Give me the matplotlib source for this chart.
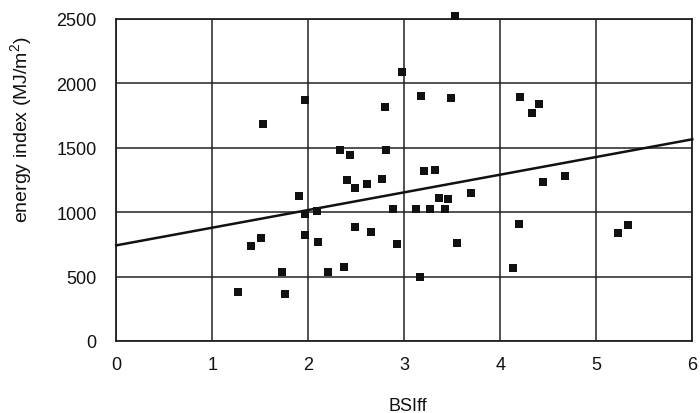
import numpy as np
import matplotlib
matplotlib.use("Agg")
import matplotlib.pyplot as plt

# BSIff vs energy index
bsiff = [1.27, 1.40, 1.51, 1.53, 1.73, 1.76, 1.90, 1.97, 1.97, 1.97,
         2.09, 2.10, 2.21, 2.37, 2.33, 2.44, 2.40, 2.49, 2.61, 2.77,
         2.81, 2.80, 2.88, 2.92, 2.49, 2.65, 2.98, 3.53, 3.17, 3.49,
         4.21, 4.40, 4.33, 3.21, 3.32, 4.45, 4.67, 3.36, 3.46, 3.69,
         3.12, 3.27, 3.42, 3.55, 3.16, 4.13, 4.19, 5.23, 5.33]
energy = [380, 735, 798, 1687, 532, 361, 1125, 1873, 983, 823,
          1008, 767, 535, 573, 1482, 1444, 1252, 1188, 1216, 1255,
          1482, 1816, 1026, 750, 881, 848, 2085, 2520, 1905, 1885,
          1893, 1843, 1771, 1320, 1328, 1234, 1281, 1109, 1099, 1146,
          1021, 1021, 1021, 763, 500, 570, 911, 836, 900]

# regression line drawn on the chart
fit_intercept = 742
fit_slope = 137.2

x_ticks = [0, 1, 2, 3, 4, 5, 6]
y_ticks = [0, 500, 1000, 1500, 2000, 2500]

plt.rcParams["font.family"] = ["Liberation Sans", "DejaVu Sans"]
plt.rcParams["mathtext.fontset"] = "custom"
plt.rcParams["mathtext.rm"] = "Liberation Sans"
plt.rcParams["mathtext.it"] = "Liberation Sans"

fig = plt.figure(figsize=(7.0, 4.14), dpi=100)
ax = fig.add_axes([0.166, 0.174, 0.823, 0.778])

ax.set_xlim(0, 6)
ax.set_ylim(0, 2500)
ax.set_xticks(x_ticks)
ax.set_yticks(y_ticks)
ax.grid(True, color="#222222", linewidth=1.1)
ax.set_axisbelow(True)
for spine in ax.spines.values():
    spine.set_color("#222222")
    spine.set_linewidth(1.3)
ax.tick_params(length=0, labelsize=13, colors="#111111")
ax.tick_params(axis="x", pad=11)
ax.tick_params(axis="y", pad=14)

line_x = np.array([0, 6])
ax.plot(line_x, fit_intercept + fit_slope * line_x, color="#111111", linewidth=1.8,
        clip_on=False, zorder=3)
ax.scatter(bsiff, energy, marker="s", s=32, color="#111111", zorder=4, clip_on=False,
           linewidths=0)

ax.set_xlabel("BSIff", fontsize=13, color="#111111")
ax.set_ylabel("energy index (MJ/m$^\\mathrm{2}$)", fontsize=14, color="#111111")
ax.xaxis.set_label_coords(0.507, -0.175)
ax.yaxis.set_label_coords(-0.143, 0.66)

fig.savefig("out.png", dpi=100)
